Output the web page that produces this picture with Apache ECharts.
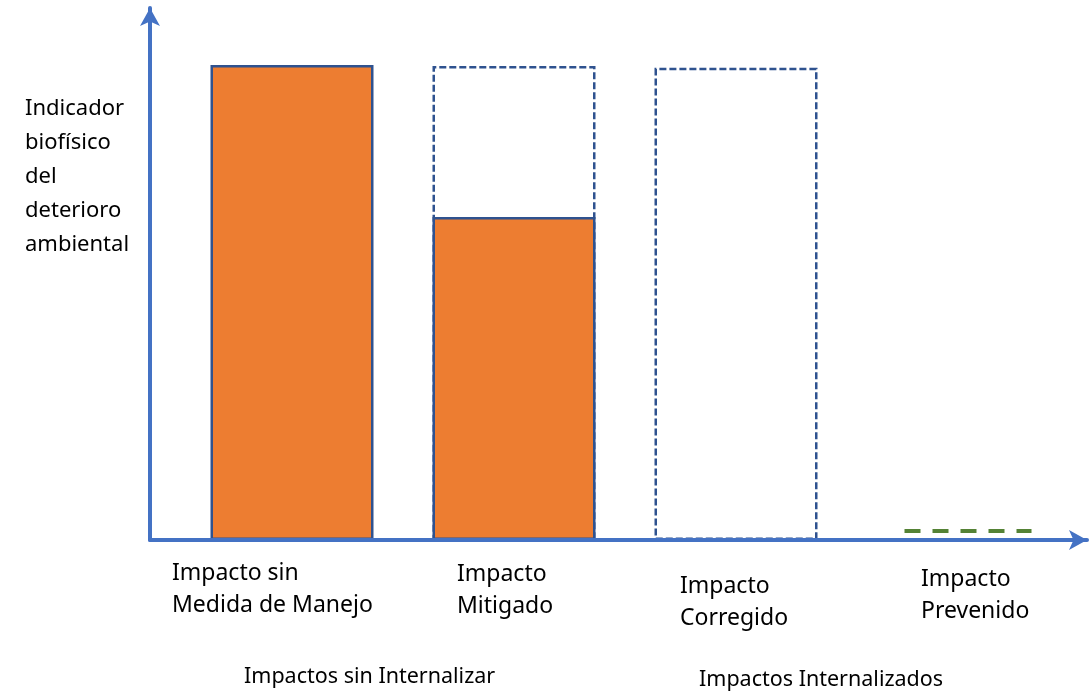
<!DOCTYPE html>
<html>
<head>
<meta charset="utf-8">
<script src="https://cdn.jsdelivr.net/npm/echarts@6/dist/echarts.min.js"></script>
<style>
  html, body { margin: 0; padding: 0; background: #fff; }
  #main { width: 1089px; height: 691px; }
</style>
</head>
<body>
<div id="main"></div>
<script>
// categorias del eje x
var categorias = ['Impacto sin\nMedida de Manejo', 'Impacto\nMitigado', 'Impacto\nCorregido', 'Impacto\nPrevenido'];
// impacto potencial (contorno punteado)
var potencial = ['-', 99.8, 99.4, '-'];
// impacto que queda sin internalizar (naranja)
var remanente = [100, 68, '-', '-'];
// impacto prevenido (linea verde)
var prevenido = ['-', '-', '-', 1.9];
var grupos = ['Impactos sin Internalizar', 'Impactos Internalizados'];
var ejeY = 'Indicador\nbiofísico\ndel\ndeterioro\nambiental';

var fuente = 'Noto Sans';
var azulEje = '#4472C4';
var azulBorde = '#2F528F';

// posiciones de las etiquetas (cajas de texto del original)
var posEtiquetas = [[172, 557], [457, 558], [680, 570], [921, 563]];
var posGrupos = [[244, 666], [699, 669]];

var prevData = [];
prevenido.forEach(function (v, i) { if (v !== '-') prevData.push([i, v]); });

var graficos = [{
  type: 'text', left: 25, top: 92,
  style: { text: ejeY, font: '22px "' + fuente + '"', lineHeight: 34, fill: '#000' }
}];
categorias.forEach(function (c, i) {
  graficos.push({
    type: 'text', left: posEtiquetas[i][0], top: posEtiquetas[i][1],
    style: { text: c, font: '23px "' + fuente + '"', lineHeight: 32.5, fill: '#000' }
  });
});
grupos.forEach(function (g, i) {
  graficos.push({
    type: 'text', left: posGrupos[i][0], top: posGrupos[i][1],
    style: { text: g, font: '21.5px "' + fuente + '"', fill: '#000' }
  });
});

option = {
  backgroundColor: '#fff',
  animation: false,
  grid: [
    { left: 181, right: 20, top: 65, bottom: 151 },
    { left: 150, right: 2, top: 8, bottom: 151 }
  ],
  xAxis: [
    { type: 'category', gridIndex: 0, data: categorias, show: false },
    {
      type: 'value', gridIndex: 1, min: 0, max: 1, z: 10,
      axisLine: { show: true, symbol: ['none', 'arrow'], symbolSize: [15, 18],
        lineStyle: { color: azulEje, width: 4 } },
      axisTick: { show: false }, axisLabel: { show: false }, splitLine: { show: false }
    }
  ],
  yAxis: [
    { type: 'value', gridIndex: 0, min: 0, max: 100, show: false },
    {
      type: 'value', gridIndex: 1, min: 0, max: 1, z: 10,
      axisLine: { show: true, symbol: ['none', 'arrow'], symbolSize: [15, 18],
        lineStyle: { color: azulEje, width: 4 } },
      axisTick: { show: false }, axisLabel: { show: false }, splitLine: { show: false }
    }
  ],
  series: [
    {
      name: 'Potencial', type: 'bar', xAxisIndex: 0, yAxisIndex: 0,
      barWidth: 163, barGap: '-100%', data: potencial,
      itemStyle: { color: 'rgba(0,0,0,0)', borderColor: azulBorde, borderWidth: 2.5, borderType: [7, 3] }
    },
    {
      name: 'Remanente', type: 'bar', xAxisIndex: 0, yAxisIndex: 0,
      barWidth: 163, barGap: '-100%', data: remanente,
      itemStyle: { color: '#ED7D31', borderColor: azulBorde, borderWidth: 2.5 }
    },
    {
      name: 'Prevenido', type: 'custom', xAxisIndex: 0, yAxisIndex: 0, z: 20,
      data: prevData,
      renderItem: function (params, api) {
        var p = api.coord([api.value(0), api.value(1)]);
        var w = 127;
        return {
          type: 'line',
          shape: { x1: p[0] - w / 2 + 10, y1: p[1], x2: p[0] + w / 2 + 10, y2: p[1] },
          style: { stroke: '#548235', lineWidth: 4, lineDash: [16, 12] }
        };
      }
    }
  ],
  graphic: graficos
};

var myChart = echarts.init(document.getElementById('main'));
myChart.setOption(option);
</script>
</body>
</html>
